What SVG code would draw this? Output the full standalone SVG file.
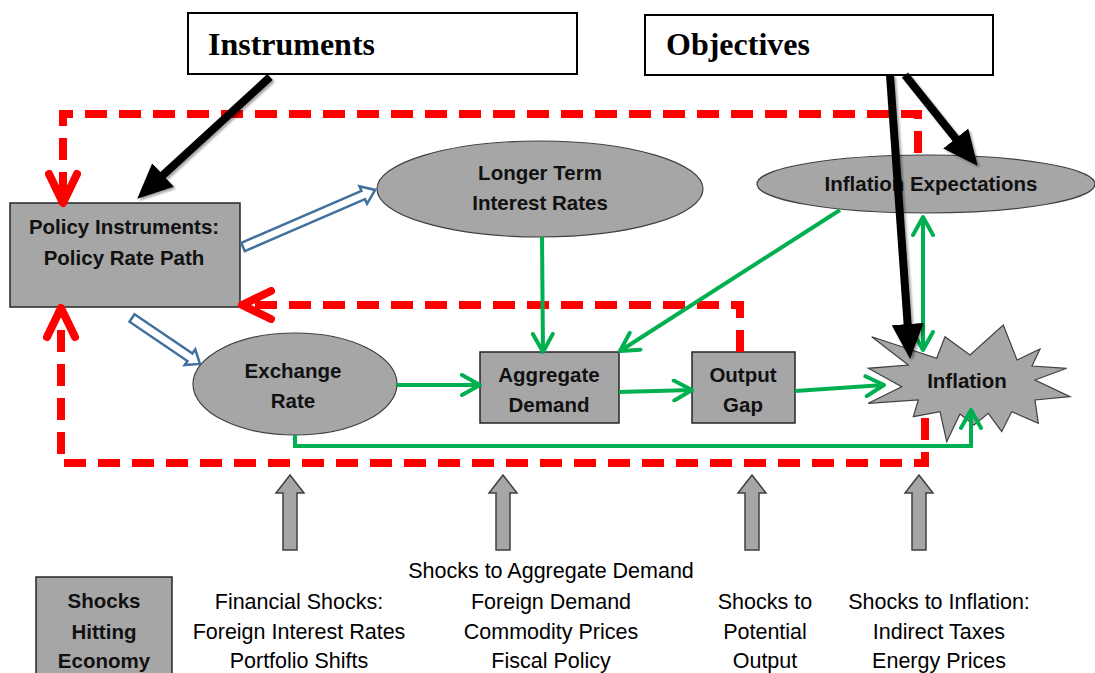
<svg xmlns="http://www.w3.org/2000/svg" width="1095" height="673" viewBox="0 0 1095 673">
<style>
.box{fill:#A6A6A6;stroke:#262626;stroke-width:1.5}
.ell{fill:#A6A6A6;stroke:#404040;stroke-width:1.2}
.wbox{fill:#fff;stroke:#000;stroke-width:2}
.nl{font-family:"Liberation Sans",Arial,sans-serif;font-weight:bold;font-size:20.5px;fill:#111;text-anchor:middle}
.tl{font-family:"Liberation Serif","Times New Roman",serif;font-weight:bold;font-size:32px;fill:#000}
.bt{font-family:"Liberation Sans",Arial,sans-serif;font-size:21.5px;fill:#000;text-anchor:middle}
.red{fill:none;stroke:#FF0000;stroke-width:8;stroke-dasharray:22 12}
.grn{fill:none;stroke:#00B050;stroke-width:4}
.blk{fill:none;stroke:#000;stroke-width:8}
.hol{fill:#fff;stroke:#41719C;stroke-width:2.5;stroke-linejoin:miter}
.up{fill:#A6A6A6;stroke:#404040;stroke-width:1.5}
</style>
<defs>
<marker id="rh" markerUnits="userSpaceOnUse" viewBox="0 0 40 36" markerWidth="40" markerHeight="36" refX="34" refY="18" orient="auto">
<path d="M5,4 L34,18 L5,32" fill="none" stroke="#FF0000" stroke-width="8" stroke-linecap="round" stroke-linejoin="round"/>
</marker>
<marker id="gh" markerUnits="userSpaceOnUse" viewBox="0 0 24 24" markerWidth="24" markerHeight="24" refX="21" refY="12" orient="auto-start-reverse">
<path d="M3,2 L21,12 L3,22" fill="none" stroke="#00B050" stroke-width="4" stroke-linecap="round" stroke-linejoin="round"/>
</marker>
<marker id="bh" markerUnits="userSpaceOnUse" viewBox="0 0 36 32" markerWidth="36" markerHeight="32" refX="14" refY="16" orient="auto">
<path d="M0,0 L35,16 L0,32 z" fill="#000"/>
</marker>
<filter id="sh" x="-20%" y="-20%" width="140%" height="140%">
<feDropShadow dx="2" dy="2" stdDeviation="1.2" flood-color="#000" flood-opacity="0.35"/>
</filter>
</defs>

<g id="instruments">
<rect class="wbox" x="188" y="13" width="389" height="61"/>
<text class="tl" x="208" y="55" textLength="167" lengthAdjust="spacingAndGlyphs">Instruments</text>
</g>
<g id="objectives">
<rect class="wbox" x="645" y="15" width="348" height="60"/>
<text class="tl" x="666" y="55" textLength="144" lengthAdjust="spacingAndGlyphs">Objectives</text>
</g>

<g id="policy">
<rect class="box" x="10" y="203" width="230" height="104"/>
<text class="nl" x="124" y="234">Policy Instruments:</text>
<text class="nl" x="124" y="265">Policy Rate Path</text>
</g>
<g id="longer-term">
<ellipse class="ell" cx="540" cy="189" rx="163" ry="48"/>
<text class="nl" x="540" y="180">Longer Term</text>
<text class="nl" x="540" y="210">Interest Rates</text>
</g>
<g id="inflation-expectations">
<ellipse class="ell" cx="926" cy="184" rx="169" ry="29"/>
<text class="nl" x="931" y="191">Inflation Expectations</text>
</g>
<g id="exchange-rate">
<ellipse class="ell" cx="295" cy="384" rx="102" ry="51"/>
<text class="nl" x="293" y="378">Exchange</text>
<text class="nl" x="293" y="408">Rate</text>
</g>
<g id="aggregate-demand">
<rect class="box" x="480" y="352" width="139" height="71"/>
<text class="nl" x="549" y="382">Aggregate</text>
<text class="nl" x="549" y="412">Demand</text>
</g>
<g id="output-gap">
<rect class="box" x="692" y="352" width="103" height="71"/>
<text class="nl" x="743" y="382">Output</text>
<text class="nl" x="743" y="412">Gap</text>
</g>
<g id="inflation">
<polygon class="ell" points="871.7,336.7 936.7,358.3 945,336.7 970,355 1003.3,325 1017,360 1040,349 1032,366 1066.7,368.3 1035,380 1070,396.7 1035,400 1038.3,423.3 1011.7,411.7 1001.7,431.7 988.3,413.3 974,425 960,414 946.7,441.7 940,411.7 913.3,416.7 918.3,400 868.3,403.3 901.7,386.7 868.3,368.3 908.3,365"/>
<text class="nl" x="967" y="388">Inflation</text>
</g>
<g id="shocks-box">
<rect class="box" x="36" y="577" width="136" height="110"/>
<text class="nl" x="104" y="608">Shocks</text>
<text class="nl" x="104" y="639">Hitting</text>
<text class="nl" x="104" y="668">Economy</text>
</g>

<g id="shock-arrows">
<polygon class="up" points="290,475 304,493 297,493 297,550 283,550 283,493 276,493"/>
<polygon class="up" points="503,475 517,493 510,493 510,550 496,550 496,493 489,493"/>
<polygon class="up" points="752,475 766,493 759,493 759,550 745,550 745,493 738,493"/>
<polygon class="up" points="919,475 933,493 926,493 926,550 912,550 912,493 905,493"/>
</g>

<g id="shock-labels">
<text class="bt" x="551" y="578">Shocks to Aggregate Demand</text>
<text class="bt" x="299" y="609">Financial Shocks:</text>
<text class="bt" x="299" y="639">Foreign Interest Rates</text>
<text class="bt" x="299" y="668">Portfolio Shifts</text>
<text class="bt" x="551" y="609">Foreign Demand</text>
<text class="bt" x="551" y="639">Commodity Prices</text>
<text class="bt" x="551" y="668">Fiscal Policy</text>
<text class="bt" x="765" y="609">Shocks to</text>
<text class="bt" x="765" y="639">Potential</text>
<text class="bt" x="765" y="668">Output</text>
<text class="bt" x="939" y="609">Shocks to Inflation:</text>
<text class="bt" x="939" y="639">Indirect Taxes</text>
<text class="bt" x="939" y="668">Energy Prices</text>
</g>

<g id="connectors">
<path class="red" d="M918,153 V114 H63 V203" marker-end="url(#rh)"/>
<path class="red" d="M740,352 V305 H242" marker-end="url(#rh)"/>
<path class="red" d="M925,418 V463 H61 V308" marker-end="url(#rh)"/>

<path class="grn" d="M542,237 L543,352" marker-end="url(#gh)"/>
<path class="grn" d="M840,210 L620,351" marker-end="url(#gh)"/>
<path class="grn" d="M397,385 L480,385" marker-end="url(#gh)"/>
<path class="grn" d="M619,392 L692,390" marker-end="url(#gh)"/>
<path class="grn" d="M795,391 L884,385" marker-end="url(#gh)"/>
<path class="grn" d="M295,435 V446 H971 V410" marker-end="url(#gh)"/>
<path class="grn" d="M923,217 V350" marker-start="url(#gh)" marker-end="url(#gh)"/>

<polygon class="hol" transform="translate(243,247) rotate(-23.35)" points="0,-4.5 131,-4.5 131,-9.5 144,0 131,9.5 131,4.5 0,4.5"/>
<polygon class="hol" transform="translate(132,318) rotate(34.1)" points="0,-4.5 70,-4.5 70,-9.5 82,0 70,9.5 70,4.5 0,4.5"/>

<g filter="url(#sh)">
<path class="blk" d="M270,77 L152.7,184.5" marker-end="url(#bh)"/>
<path class="blk" d="M905,75 L964.5,149.4" marker-end="url(#bh)"/>
<path class="blk" d="M890,75 L908.6,338" marker-end="url(#bh)"/>
</g>
</g>
</svg>
